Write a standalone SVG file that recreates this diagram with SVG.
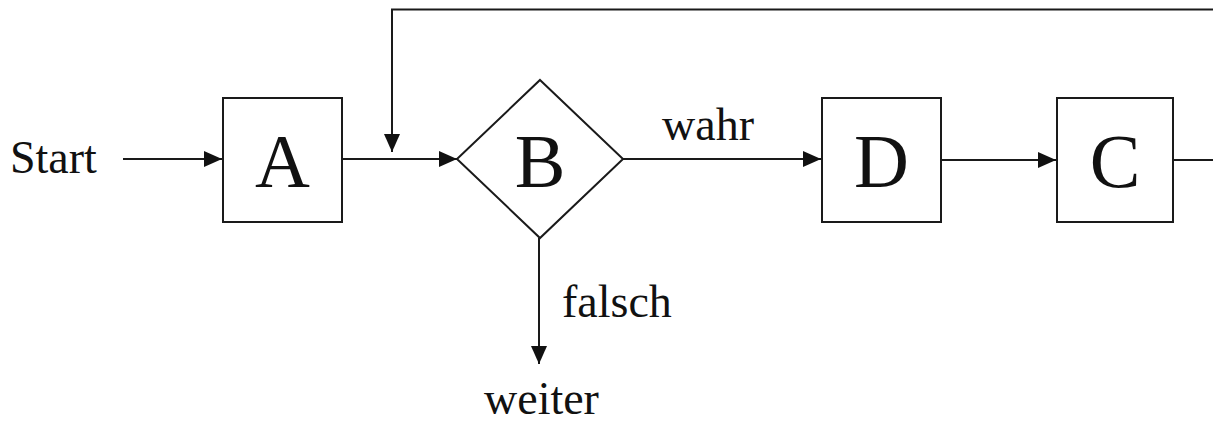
<svg xmlns="http://www.w3.org/2000/svg" width="1213" height="425" viewBox="0 0 1213 425">
  <style>
    .shape { fill: #ffffff; stroke: #1a1a1a; stroke-width: 2; }
    .edge { fill: none; stroke: #1a1a1a; stroke-width: 2; }
    .big { font-family: "Liberation Serif", "Times New Roman", serif; font-size: 76px; fill: #111111; text-anchor: middle; }
    .lbl { font-family: "Liberation Serif", "Times New Roman", serif; font-size: 46px; fill: #111111; }
  </style>
  <defs>
    <marker id="arrow" markerUnits="userSpaceOnUse" markerWidth="19" markerHeight="16" refX="18" refY="8" orient="auto">
      <path d="M0,0 L18,8 L0,16 Z" fill="#111111"/>
    </marker>
  </defs>
  <rect width="1213" height="425" fill="#ffffff"/>

  <g id="connectors">
    <line class="edge" x1="123" y1="159" x2="222" y2="159" marker-end="url(#arrow)"/>
    <line class="edge" x1="342" y1="159" x2="457" y2="159" marker-end="url(#arrow)"/>
    <line class="edge" x1="623" y1="159" x2="821" y2="159" marker-end="url(#arrow)"/>
    <line class="edge" x1="941" y1="160" x2="1056" y2="160" marker-end="url(#arrow)"/>
    <line class="edge" x1="539" y1="238" x2="539" y2="364" marker-end="url(#arrow)"/>
    <!-- feedback loop from C back into the path before B (return leg runs past the right edge) -->
    <polyline class="edge" points="1173,160 1216,160 1216,9.5 392,9.5 392,152" marker-end="url(#arrow)"/>
  </g>

  <g id="start">
    <text class="lbl" x="10" y="173">Start</text>
  </g>
  <g id="node-a">
    <rect class="shape" x="223" y="98" width="119" height="124"/>
    <text class="big" x="282.5" y="187">A</text>
  </g>
  <g id="node-b">
    <polygon class="shape" points="540,80 623,159 540,238 457,159"/>
    <text class="big" x="540" y="187">B</text>
  </g>
  <g id="node-d">
    <rect class="shape" x="822" y="98" width="119" height="124"/>
    <text class="big" x="881.5" y="187">D</text>
  </g>
  <g id="node-c">
    <rect class="shape" x="1057" y="98" width="116" height="124"/>
    <text class="big" x="1115" y="187">C</text>
  </g>
  <g id="labels">
    <text class="lbl" x="662" y="140">wahr</text>
    <text class="lbl" x="562" y="317">falsch</text>
    <text class="lbl" x="484" y="414">weiter</text>
  </g>
</svg>
